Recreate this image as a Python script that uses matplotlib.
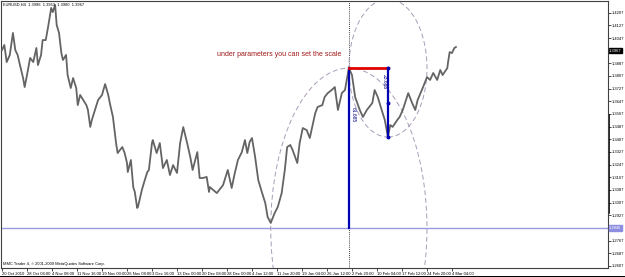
import numpy as np
import matplotlib
matplotlib.use('Agg')
import matplotlib.pyplot as plt
from matplotlib.patches import Ellipse, Rectangle

plt.rcParams['font.family'] = ['Liberation Sans', 'DejaVu Sans']

# EURUSD H4, bar index / close
bars = [0, 3, 6, 10, 14, 17, 20, 23, 27, 29, 32, 36, 40, 44, 46, 50, 52, 56, 59, 63,
        65, 68, 70, 73, 76, 78, 82, 84, 88, 91, 95, 97, 100, 104, 108, 110, 113, 115, 119, 123,
        128, 132, 136, 138, 142, 146, 148, 154, 157, 160, 161, 165, 168, 170, 173, 174, 179, 182, 186, 188,
        192, 193, 198, 202, 206, 211, 215, 219, 224, 228, 232, 237, 241, 244, 250, 253, 257, 262, 265, 266,
        275, 283, 289, 294, 298, 302, 307, 311, 314, 317, 320, 324, 328, 333, 337, 340, 344, 349, 353, 358,
        362, 365, 369, 372, 378, 381, 385, 390, 394, 401, 404, 410, 413, 417, 422, 426, 430, 435, 439, 444,
        448, 452, 458, 462, 467, 474, 477, 481, 486, 490, 494, 497, 500, 506, 509, 513, 520, 525, 529, 532,
        539, 544, 548, 552, 557, 561, 564, 570, 571, 573, 576, 579, 581]
closes = [1.3971, 1.4003, 1.3895, 1.3940, 1.4079, 1.3971, 1.3940, 1.3876, 1.3794, 1.3737,
          1.3813, 1.3921, 1.3895, 1.3984, 1.3876, 1.3940, 1.4034, 1.4034, 1.4117, 1.4237,
          1.4211, 1.4256, 1.4129, 1.4079, 1.3952, 1.3908, 1.3940, 1.3813, 1.3731, 1.3794,
          1.3731, 1.3623, 1.3687, 1.3655, 1.3623, 1.3592, 1.3485, 1.3529, 1.3592, 1.3655,
          1.3687, 1.3756, 1.3687, 1.3636, 1.3548, 1.3383, 1.3320, 1.3358, 1.3320, 1.3257,
          1.3200, 1.3276, 1.3105, 1.3074, 1.2973, 1.2979, 1.3086, 1.3137, 1.3200, 1.3213,
          1.3383, 1.3402, 1.3320, 1.3383, 1.3225, 1.3276, 1.3181, 1.3244, 1.3194, 1.3383,
          1.3484, 1.3383, 1.3295, 1.3213, 1.3326, 1.3162, 1.3162, 1.3169, 1.3074, 1.3105,
          1.3067, 1.3118, 1.3213, 1.3099, 1.3194, 1.3276, 1.3326, 1.3402, 1.3320, 1.3390,
          1.3415, 1.3295, 1.3150, 1.3067, 1.3004, 1.2916, 1.2878, 1.2941, 1.2979, 1.3067,
          1.3213, 1.3358, 1.3371, 1.3339, 1.3257, 1.3383, 1.3478, 1.3465, 1.3415, 1.3573,
          1.3611, 1.3623, 1.3674, 1.3699, 1.3718, 1.3737, 1.3592, 1.3699, 1.3718, 1.3857,
          1.3813, 1.3674, 1.3592, 1.3548, 1.3592, 1.3636, 1.3718, 1.3674, 1.3592, 1.3529,
          1.3421, 1.3497, 1.3485, 1.3529, 1.3548, 1.3592, 1.3699, 1.3636, 1.3592, 1.3655,
          1.3737, 1.3800, 1.3782, 1.3826, 1.3782, 1.3845, 1.3813, 1.3857, 1.3895, 1.3958,
          1.3952, 1.3984, 1.3990]

time_labels = ['20 Oct 2010', '28 Oct 04:00', '4 Nov 08:00', '11 Nov 16:00', '19 Nov 00:00',
               '26 Nov 08:00', '3 Dec 16:00', '13 Dec 00:00', '20 Dec 08:00', '28 Dec 00:00',
               '4 Jan 12:00', '11 Jan 20:00', '19 Jan 04:00', '26 Jan 12:00', '2 Feb 20:00',
               '10 Feb 04:00', '17 Feb 12:00', '24 Feb 20:00', '4 Mar 04:00']
bars_per_label = 32

price_ticks = [round(1.2607 + 0.008 * k, 4) for k in range(21)]
last_price = 1.3967
hline_price = 1.2846

low_bar = 344
peak_bar, peak_price = 444, 1.3857
dip_bar, dip_price = 494, 1.3421

title_txt = 'EURUSD,H4  1.3996  1.3953  1.3980  1.3967'
copy_txt = 'MMC Trader 4, \u00a9 2001-2009 MetaQuotes Software Corp.'
note_txt = 'under parameters you can set the scale'

fig = plt.figure(figsize=(6.25, 2.77), dpi=100)
ax = fig.add_axes([1 / 625, 9 / 277, 607 / 625, 267 / 277])
ax.set_xlim(-1.28, 775.7)
ax.set_ylim(1.25934, 1.42809)

ax.plot(bars, closes, color='#646464', lw=1.3, zorder=3)

# horizontal level line
ax.axhline(hline_price, color='#9a9ae0', lw=1.0, zorder=2)
# dotted vertical at the peak
ax.axvline(peak_bar, color='black', lw=0.6, ls=(0, (1, 1.5)), zorder=2)

# ellipses
ell_col = '#a99cb8'
big = Ellipse((peak_bar, hline_price), 2 * (peak_bar - low_bar), 2 * (peak_price - hline_price),
              fill=False, ec=ell_col, lw=0.7, ls=(0, (5, 3)), zorder=2)
small = Ellipse((dip_bar, peak_price), 2 * (dip_bar - peak_bar), 2 * (peak_price - dip_price),
                fill=False, ec=ell_col, lw=0.7, ls=(0, (5, 3)), zorder=2)
ax.add_patch(big)
ax.add_patch(small)

# measuring lines
ax.plot([peak_bar, peak_bar], [hline_price, peak_price], color='#0000b4', lw=1.6, zorder=4)
ax.plot([dip_bar, dip_bar], [dip_price, peak_price], color='#0000b4', lw=1.6, zorder=4)
ax.plot([peak_bar, dip_bar], [peak_price, peak_price], color='#e00000', lw=2.0, zorder=5)
ax.plot([dip_bar] * 3, [peak_price, (peak_price + dip_price) / 2, dip_price], 'o',
        color='#0000b4', ms=1.8, zorder=6)

ax.text(peak_bar + 3, 1.3560, '61.685', rotation=-90, fontsize=3.6, color='#000080',
        ha='left', va='center', zorder=6)
ax.text(dip_bar - 2, 1.3770, '23.685', rotation=-90, fontsize=3.6, color='#000080',
        ha='right', va='center', zorder=6)

ax.text(0.459, 0.80, note_txt, transform=ax.transAxes, fontsize=5.0, color='#a01818',
        ha='center', va='center')
ax.text(0.003, 0.993, title_txt, transform=ax.transAxes, fontsize=2.9, color='black',
        ha='left', va='top')
ax.text(0.003, 0.006, copy_txt, transform=ax.transAxes, fontsize=2.9, color='black',
        ha='left', va='bottom')

# right price scale
ax.yaxis.tick_right()
yt = [p for p in price_ticks if abs(p - last_price) > 0.002 and abs(p - hline_price) > 0.002]
ax.set_yticks(yt)
ax.set_yticklabels(['%.4f' % p for p in yt])
ax.tick_params(axis='y', labelsize=3, length=2, width=0.5, pad=1)

ax.text(1.002, last_price, '1.3967', transform=ax.get_yaxis_transform(), fontsize=3,
        color='white', ha='left', va='center', clip_on=False,
        bbox=dict(boxstyle='square,pad=0.15', fc='black', ec='black'))
ax.text(1.002, hline_price, '1.2846', transform=ax.get_yaxis_transform(), fontsize=3,
        color='white', ha='left', va='center', clip_on=False,
        bbox=dict(boxstyle='square,pad=0.15', fc='#8c8ce0', ec='#8c8ce0'))
ax.plot([1.0015, 1.0015], [1.2941, 1.3560], transform=ax.get_yaxis_transform(),
        color='black', lw=1.2, clip_on=False)

# time scale
xt = [bars_per_label * i for i in range(len(time_labels))]
ax.set_xticks(xt)
ax.set_xticklabels(time_labels)
for lab in ax.get_xticklabels():
    lab.set_horizontalalignment('left')
ax.tick_params(axis='x', labelsize=3, length=2, width=0.5, pad=0.8)

for s in ax.spines.values():
    s.set_color('#404040')
    s.set_linewidth(0.8)

fig.patches.append(Rectangle((0, 0), 1, 1.5 / 277, transform=fig.transFigure,
                             fc='black', ec='none'))

fig.savefig('out.png', dpi=100)
